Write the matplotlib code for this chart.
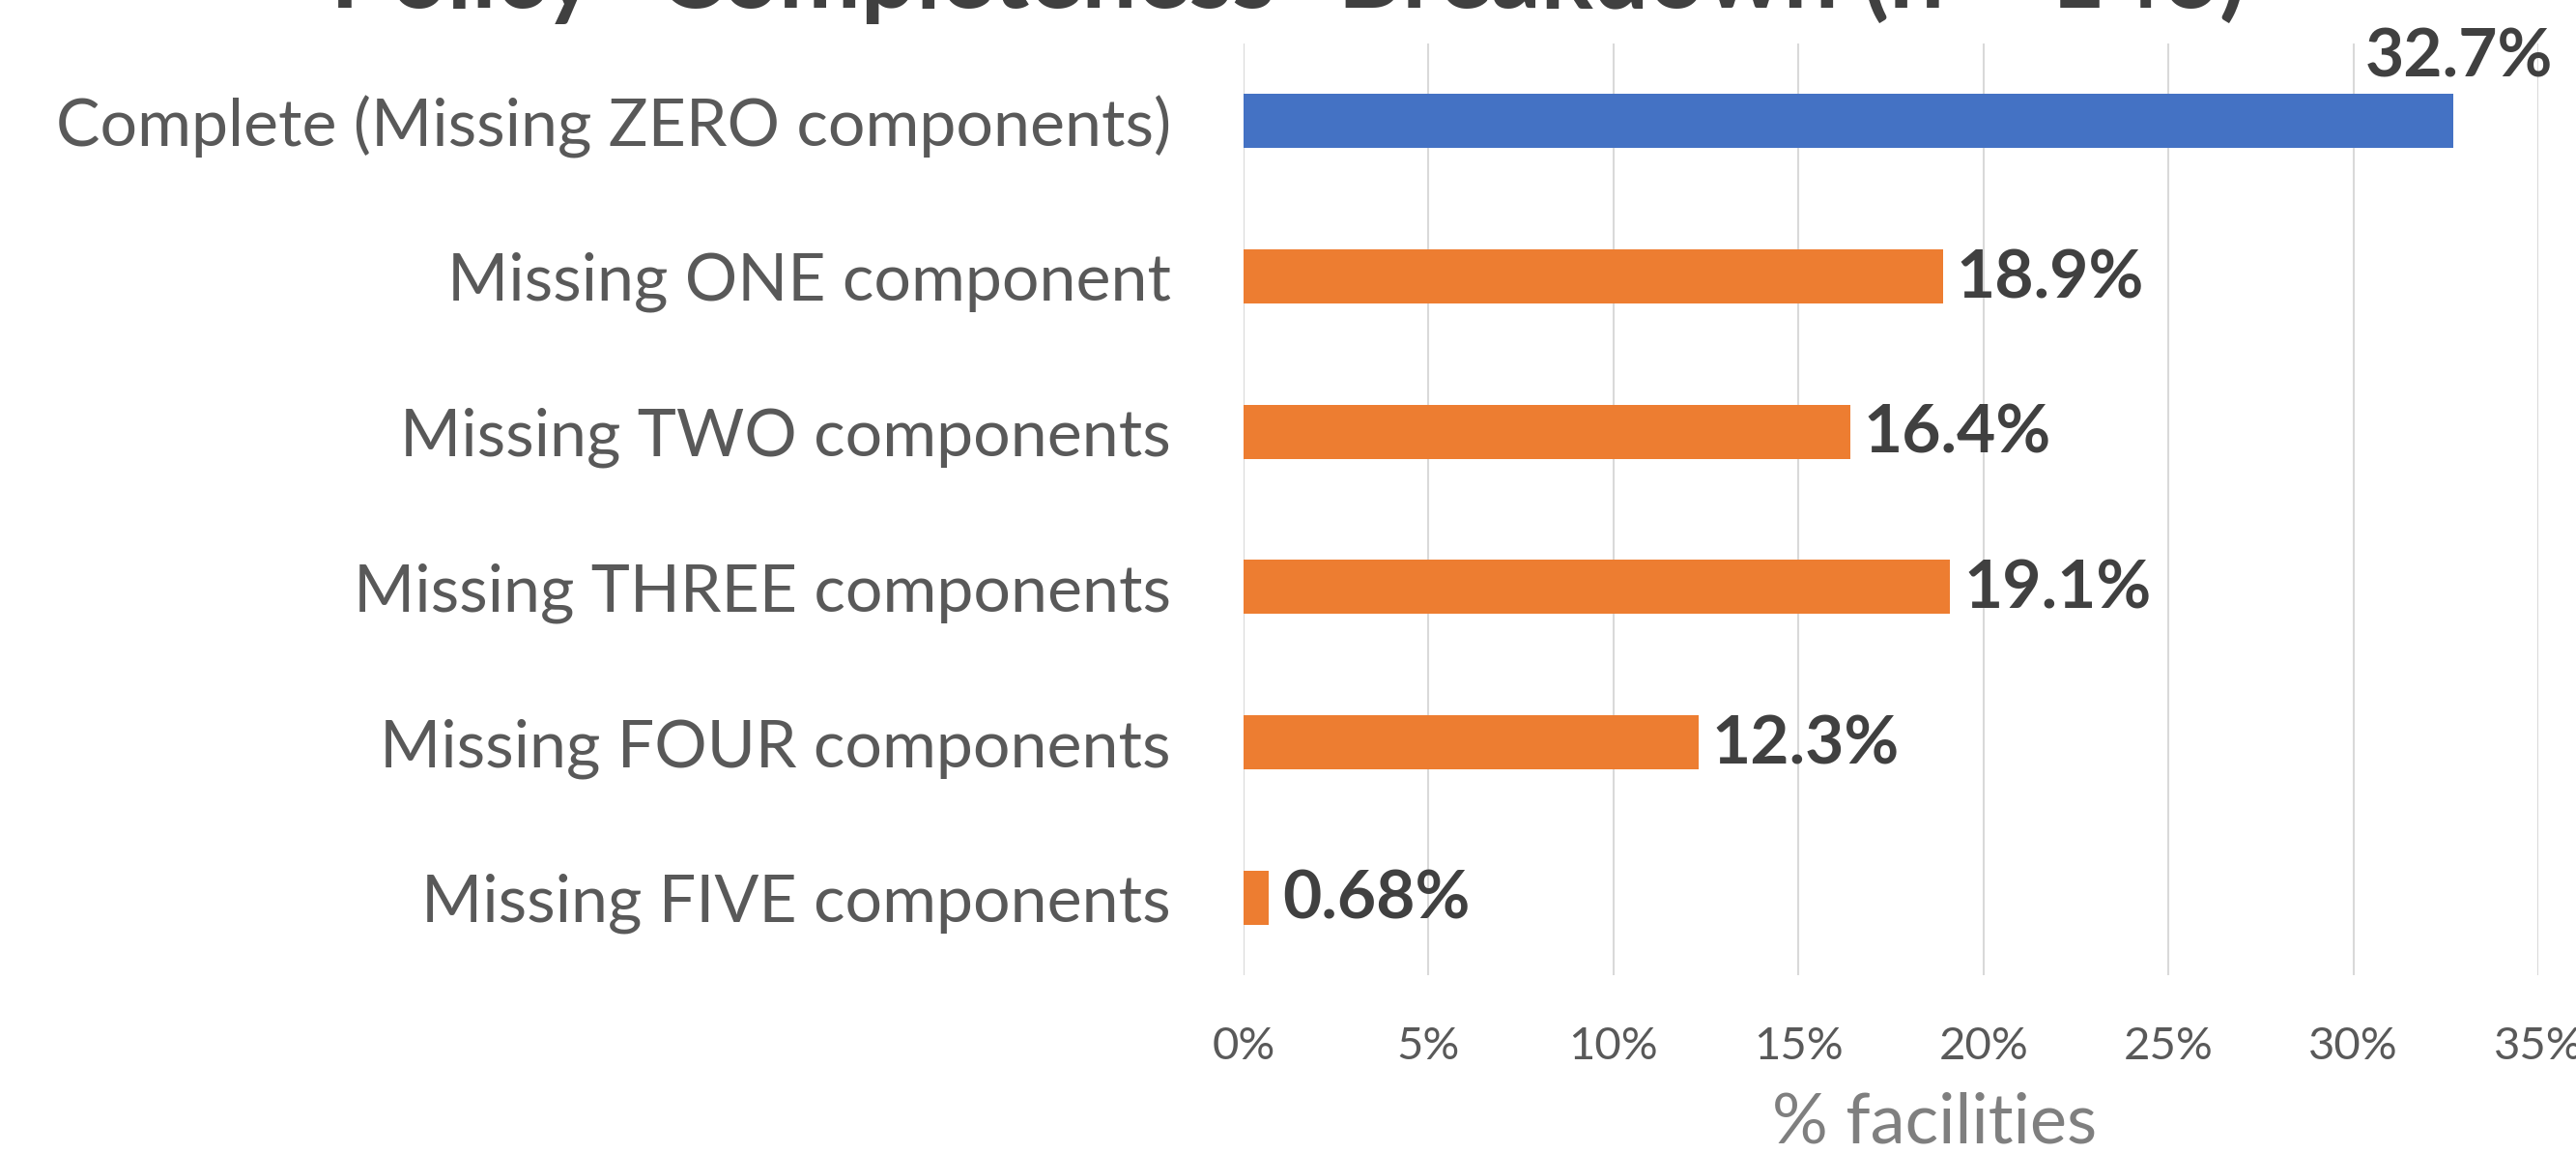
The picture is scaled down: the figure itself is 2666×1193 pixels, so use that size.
import matplotlib.pyplot as plt
from matplotlib.ticker import FuncFormatter

categories = ['Complete (Missing ZERO components)', 'Missing ONE component',
              'Missing TWO components', 'Missing THREE components',
              'Missing FOUR components', 'Missing FIVE components']
values = [32.7, 18.9, 16.4, 19.1, 12.3, 0.68]
value_labels = ['32.7%', '18.9%', '16.4%', '19.1%', '12.3%', '0.68%']
bar_colors = ['#4472C4', '#ED7D31', '#ED7D31', '#ED7D31', '#ED7D31', '#ED7D31']
x_ticks = [0, 5, 10, 15, 20, 25, 30, 35]

plt.rcParams['font.family'] = ['Lato', 'DejaVu Sans']

fig = plt.figure(figsize=(26.66, 11.93), dpi=100)
ax = fig.add_axes([0.4827, 0.1542, 0.5027, 0.8081])

ypos = list(range(len(categories)))
ax.barh(ypos, values, height=0.35, color=bar_colors, zorder=3)

ax.set_xlim(0, 35)
ax.set_ylim(len(categories) - 0.5, -0.5)
ax.set_xticks(x_ticks)
ax.xaxis.set_major_formatter(FuncFormatter(lambda v, p: f'{v:.0f}%'))
ax.set_yticks(ypos)
ax.set_yticklabels(categories)

ax.grid(axis='x', color='#D9D9D9', lw=1.5, zorder=0)
for s in ax.spines.values():
    s.set_visible(False)
ax.tick_params(axis='x', length=0, pad=38, labelsize=34, labelcolor='#595959')
ax.tick_params(axis='y', length=0, pad=54, labelsize=49, labelcolor='#595959')

ax.set_xlabel('% facilities', fontsize=52, color='#7F7F7F', labelpad=24)
ax.xaxis.set_label_coords(0.534, -0.125)

# data labels: first one sits above its bar, the rest to the right
for i, (v, lab) in enumerate(zip(values, value_labels)):
    if i == 0:
        ax.annotate(lab, (v, i - 0.175), xytext=(4, 4), textcoords='offset points',
                    ha='center', va='bottom', fontsize=50, fontweight='bold',
                    color='#404040', annotation_clip=False)
    else:
        ax.annotate(lab, (v, i), xytext=(10, -2), textcoords='offset points',
                    ha='left', va='center', fontsize=50, fontweight='bold',
                    color='#404040')

fig.text(0.5, 1 - 8 / 1193, 'Policy "Completeness" Breakdown (n = 146)',
         ha='center', va='baseline', fontsize=73, fontweight='bold', color='#404040')

fig.savefig('out.png', dpi=100, facecolor='white')
